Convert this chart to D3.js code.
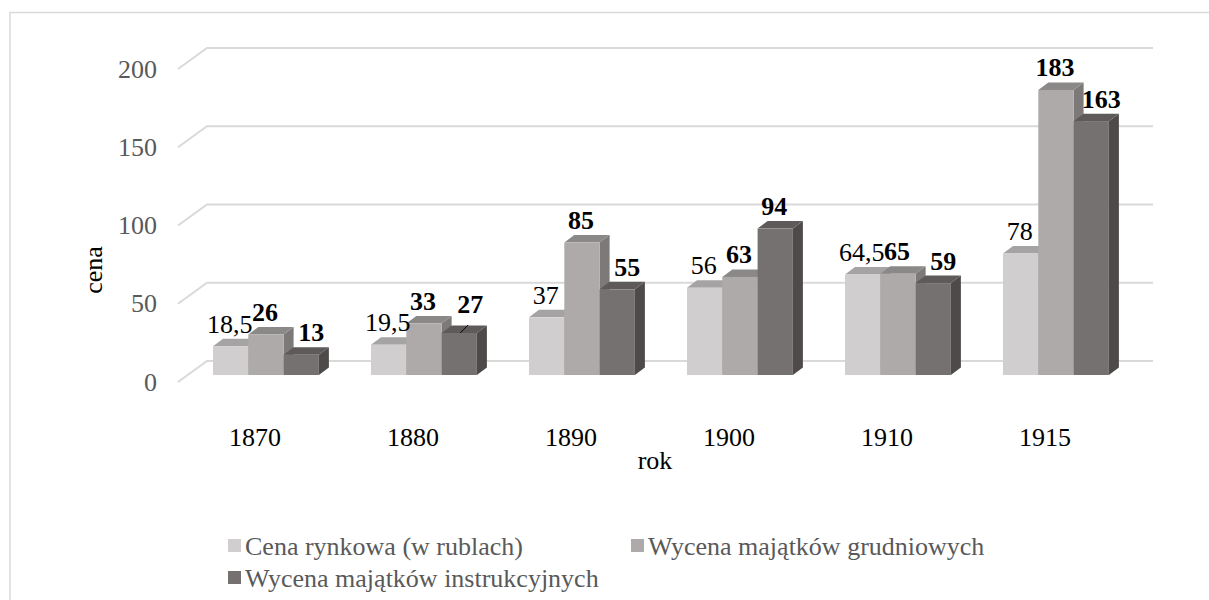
<!DOCTYPE html>
<html>
<head>
<meta charset="utf-8">
<script src="https://cdn.jsdelivr.net/npm/d3@7"></script>
<style>
  html, body { margin: 0; padding: 0; background: #fff; }
  svg { display: block; }
  svg text { font-family: "Liberation Serif", "DejaVu Serif", "Times New Roman", serif; }
</style>
</head>
<body>
<svg id="chart" width="1209" height="600"></svg>
<script>
// Years on the category axis
const years = ["1870", "1880", "1890", "1900", "1910", "1915"];
// Series values
const cenaRynkowa = [18.5, 19.5, 37, 56, 64.5, 78];
const wycenaGrudniowych = [26, 33, 85, 63, 65, 183];
const wycenaInstrukcyjnych = [13, 27, 55, 94, 59, 163];
const seriesNames = ["Cena rynkowa (w rublach)", "Wycena majątków grudniowych", "Wycena majątków instrukcyjnych"];
const yTicks = [0, 50, 100, 150, 200];

const FONT = "'Liberation Serif', 'DejaVu Serif', 'Times New Roman', serif";

const series = [
  { name: seriesNames[0], values: cenaRynkowa, front: "#d0cece", top: "#a5a3a3", side: "#9c9999", bold: false },
  { name: seriesNames[1], values: wycenaGrudniowych, front: "#aeaaaa", top: "#8b8888", side: "#7d7979", bold: true },
  { name: seriesNames[2], values: wycenaInstrukcyjnych, front: "#767171", top: "#5e5a5a", side: "#4e4a4a", bold: true }
];

const fmt = v => String(v).replace(".", ",");

const svg = d3.select("#chart");

// chart area border
svg.append("path")
  .attr("d", "M10,600 L10,12.5 L1209,12.5")
  .attr("fill", "none").attr("stroke", "#d9d9d9").attr("stroke-width", 1.5);

// 3D projection: wall is pushed back by (dx, dy) relative to the front edge
const wallDx = 29, wallDy = -21;
const barDx = 10, barDy = -7.5;

const x = d3.scaleBand().domain(years).range([176, 1124]);
const yWall = d3.scaleLinear().domain([0, 200]).range([361, 48]);
const yFront = d3.scaleLinear().domain([0, 200]).range([375, 63.5]);
const wallLeft = 207, wallRight = 1153;

// gridlines on the back wall with the receding left edge
const grid = svg.append("g").attr("class", "grid");
yTicks.forEach(t => {
  const yy = yWall(t);
  grid.append("path")
    .attr("d", `M${wallLeft - wallDx},${yy - wallDy} L${wallLeft},${yy} L${wallRight},${yy}`)
    .attr("fill", "none").attr("stroke", "#d9d9d9").attr("stroke-width", 2);
});

// y tick labels
svg.append("g").selectAll("text").data(yTicks).join("text")
  .attr("x", 157)
  .attr("y", d => yWall(d) - wallDy)
  .attr("text-anchor", "end")
  .attr("dominant-baseline", "central")
  .attr("font-family", FONT)
  .attr("font-size", 26)
  .attr("fill", "#595959")
  .text(d => d);

// bars
const barW = 35.3;
const groupOffset = 37;
const bars = svg.append("g").attr("class", "bars");
years.forEach((yr, i) => {
  series.forEach((s, k) => {
    const v = s.values[i];
    const x0 = x(yr) + groupOffset + k * barW;
    const x1 = x0 + barW;
    const yT = yFront(v), yB = yFront(0);
    const g = bars.append("g");
    // side face
    g.append("path")
      .attr("d", `M${x1},${yT} L${x1 + barDx},${yT + barDy} L${x1 + barDx},${yB + barDy} L${x1},${yB} Z`)
      .attr("fill", s.side);
    // top face
    g.append("path")
      .attr("d", `M${x0},${yT} L${x0 + barDx},${yT + barDy} L${x1 + barDx},${yT + barDy} L${x1},${yT} Z`)
      .attr("fill", s.top);
    // front face
    g.append("rect")
      .attr("x", x0).attr("y", yT).attr("width", barW).attr("height", yB - yT)
      .attr("fill", s.front);
  });
});

// data labels
const labels = svg.append("g").attr("class", "labels");
years.forEach((yr, i) => {
  series.forEach((s, k) => {
    const v = s.values[i];
    const x0 = x(yr) + groupOffset + k * barW;
    const fc = x0 + barW / 2;
    const yT = yFront(v);
    let cx = fc - 1;
    let by = yT + barDy - 6;
    // the last bar's label steps right when its left neighbour is taller
    if (k === 2 && v < series[1].values[i]) cx = fc + 10;
    // a label that collides with its neighbour is lifted and tied back with a leader
    if (yr === "1880" && k === 2) {
      cx = fc + 11;
      by = yT - 20;
      labels.append("line")
        .attr("x1", fc + 1).attr("y1", yT)
        .attr("x2", fc + 9).attr("y2", yT - 8)
        .attr("stroke", "#000").attr("stroke-width", 1);
    }
    labels.append("text")
      .attr("x", cx)
      .attr("y", by)
      .attr("text-anchor", "middle")
      .attr("font-family", FONT)
      .attr("font-size", 26)
      .attr("font-weight", s.bold ? "bold" : "normal")
      .attr("fill", "#000")
      .text(fmt(v));
  });
});

// category labels
svg.append("g").selectAll("text").data(years).join("text")
  .attr("x", d => x(d) + x.bandwidth() / 2)
  .attr("y", 446)
  .attr("text-anchor", "middle")
  .attr("font-family", FONT)
  .attr("font-size", 26)
  .attr("fill", "#000")
  .text(d => d);

// axis titles
svg.append("text")
  .attr("x", 655).attr("y", 469)
  .attr("text-anchor", "middle")
  .attr("font-family", FONT)
  .attr("font-size", 26)
  .text("rok");

svg.append("text")
  .attr("transform", "translate(93,270) rotate(-90)")
  .attr("text-anchor", "middle")
  .attr("dominant-baseline", "central")
  .attr("font-family", FONT)
  .attr("font-size", 26)
  .text("cena");

// legend
const legendPos = [[228, 546], [631, 546], [228, 578]];
const legend = svg.append("g").attr("class", "legend");
series.forEach((s, k) => {
  const [lx, ly] = legendPos[k];
  legend.append("rect")
    .attr("x", lx).attr("y", ly - 7).attr("width", 13).attr("height", 13)
    .attr("fill", s.front);
  legend.append("text")
    .attr("x", lx + 17).attr("y", ly)
    .attr("dominant-baseline", "central")
    .attr("font-family", FONT)
    .attr("font-size", 26)
    .attr("fill", "#595959")
    .text(s.name);
});
</script>
</body>
</html>
